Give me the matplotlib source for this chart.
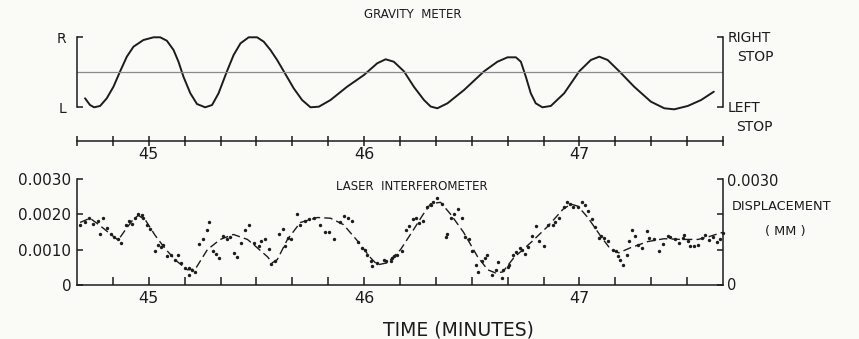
import numpy as np
import matplotlib.pyplot as plt

# gravity meter trace, time in minutes, position 0 = left stop, 1 = right stop
grav_t = [44.704, 44.727, 44.746, 44.774, 44.805, 44.836, 44.867, 44.898, 44.929, 44.975,
          45.022, 45.053, 45.084, 45.115, 45.138, 45.161, 45.193, 45.224, 45.262, 45.294,
          45.324, 45.363, 45.394, 45.426, 45.464, 45.503, 45.534, 45.565, 45.596, 45.627,
          45.673, 45.712, 45.751, 45.790, 45.844, 45.921, 45.999, 46.061, 46.100, 46.138,
          46.185, 46.231, 46.278, 46.309, 46.340, 46.387, 46.464, 46.557, 46.619, 46.666,
          46.705, 46.728, 46.751, 46.774, 46.797, 46.828, 46.867, 46.929, 46.999, 47.053,
          47.092, 47.131, 47.185, 47.254, 47.332, 47.394, 47.440, 47.503, 47.565, 47.624]
grav_pos = [0.129, 0.033, 0.0, 0.019, 0.129, 0.294, 0.514, 0.723, 0.866, 0.961,
            1.0, 1.0, 0.951, 0.819, 0.651, 0.437, 0.2, 0.047, 0.0, 0.033,
            0.2, 0.514, 0.747, 0.914, 1.0, 1.0, 0.937, 0.819, 0.676, 0.514,
            0.271, 0.104, 0.0, 0.009, 0.104, 0.294, 0.461, 0.629, 0.686, 0.651,
            0.514, 0.294, 0.104, 0.011, -0.014, 0.057, 0.247, 0.514, 0.651, 0.714,
            0.714, 0.651, 0.437, 0.2, 0.057, 0.0, 0.019, 0.2, 0.514, 0.676,
            0.723, 0.676, 0.514, 0.294, 0.080, -0.014, -0.029, 0.019, 0.104, 0.223]

# laser interferometer points (displacement in micrometres = 0.001 mm)
laser_t = [44.681, 44.704, 44.723, 44.743, 44.763, 44.774, 44.789, 44.808, 44.825, 44.840,
           44.856, 44.872, 44.894, 44.910, 44.924, 44.937, 44.952, 44.968, 44.975, 44.991,
           45.007, 45.027, 45.042, 45.058, 45.068, 45.084, 45.104, 45.123, 45.138, 45.151,
           45.169, 45.185, 45.188, 45.200, 45.216, 45.234, 45.250, 45.270, 45.281, 45.296,
           45.312, 45.327, 45.347, 45.363, 45.378, 45.398, 45.409, 45.430, 45.445, 45.464,
           45.487, 45.510, 45.523, 45.538, 45.557, 45.569, 45.588, 45.606, 45.622, 45.634,
           45.647, 45.662, 45.689, 45.704, 45.724, 45.746, 45.766, 45.797, 45.817, 45.839,
           45.859, 45.886, 45.906, 45.926, 45.944, 45.973, 45.988, 46.003, 46.014, 46.030,
           46.037, 46.061, 46.092, 46.100, 46.123, 46.131, 46.138, 46.154, 46.177, 46.193,
           46.208, 46.227, 46.239, 46.255, 46.273, 46.294, 46.309, 46.322, 46.340, 46.360,
           46.379, 46.387, 46.402, 46.418, 46.438, 46.454, 46.469, 46.487, 46.502, 46.518,
           46.531, 46.549, 46.561, 46.573, 46.593, 46.611, 46.624, 46.639, 46.645, 46.666,
           46.673, 46.692, 46.707, 46.723, 46.732, 46.748, 46.763, 46.779, 46.797, 46.810,
           46.836, 46.856, 46.875, 46.887, 46.906, 46.929, 46.940, 46.955, 46.968, 46.991,
           47.011, 47.027, 47.042, 47.058, 47.073, 47.092, 47.100, 47.115, 47.131, 47.154,
           47.169, 47.177, 47.188, 47.200, 47.219, 47.228, 47.244, 47.259, 47.270, 47.290,
           47.312, 47.324, 47.347, 47.368, 47.386, 47.410, 47.420, 47.445, 47.464, 47.482,
           47.487, 47.503, 47.515, 47.531, 47.549, 47.569, 47.585, 47.603, 47.622, 47.637,
           47.654, 47.665]
laser_um = [1.71, 1.79, 1.91, 1.73, 1.81, 1.43, 1.91, 1.62, 1.45, 1.35,
            1.31, 1.19, 1.69, 1.81, 1.73, 1.91, 2.00, 1.98, 1.89, 1.71,
            1.59, 0.97, 1.14, 1.07, 1.14, 0.81, 0.86, 0.71, 0.86, 0.62,
            0.49, 0.48, 0.29, 0.43, 0.38, 1.16, 1.29, 1.57, 1.79, 0.95,
            0.88, 0.76, 1.38, 1.29, 1.35, 0.91, 0.78, 1.19, 1.57, 1.69,
            1.19, 1.09, 1.24, 1.31, 1.02, 0.59, 0.67, 1.45, 1.59, 1.09,
            1.33, 1.31, 2.00, 1.71, 1.81, 1.88, 1.91, 1.71, 1.49, 1.49,
            1.31, 1.78, 1.95, 1.91, 1.81, 1.21, 1.05, 1.00, 0.86, 0.67,
            0.55, 0.62, 0.71, 0.67, 0.67, 0.76, 0.83, 0.86, 0.95, 1.57,
            1.67, 1.86, 1.89, 1.76, 1.81, 2.21, 2.27, 2.36, 2.46, 2.29,
            1.35, 1.45, 1.89, 2.00, 2.16, 1.89, 1.35, 1.29, 0.97, 0.57,
            0.38, 0.69, 0.76, 0.86, 0.29, 0.43, 0.64, 0.19, 0.43, 0.52,
            0.57, 0.84, 0.93, 1.05, 1.00, 0.88, 1.08, 1.38, 1.67, 1.24,
            1.09, 1.69, 1.71, 1.79, 1.89, 2.21, 2.36, 2.29, 2.21, 2.21,
            2.36, 2.27, 2.09, 1.86, 1.64, 1.33, 1.38, 1.33, 1.24, 1.00,
            0.95, 0.81, 0.71, 0.57, 0.86, 1.24, 1.57, 1.38, 1.14, 1.05,
            1.54, 1.33, 1.29, 0.97, 1.16, 1.38, 1.35, 1.29, 1.19, 1.33,
            1.41, 1.24, 1.09, 1.09, 1.14, 1.33, 1.41, 1.26, 1.35, 1.21,
            1.29, 1.48]

# dashed smooth curve through the laser points
fit_t = [44.681, 44.727, 44.774, 44.820, 44.858, 44.890, 44.923, 44.951, 44.983, 45.030,
         45.076, 45.123, 45.179, 45.216, 45.272, 45.332, 45.393, 45.458, 45.495, 45.551,
         45.574, 45.597, 45.644, 45.704, 45.783, 45.844, 45.904, 45.969, 46.030, 46.062,
         46.109, 46.169, 46.230, 46.272, 46.309, 46.355, 46.402, 46.462, 46.527, 46.574,
         46.611, 46.644, 46.695, 46.774, 46.853, 46.923, 46.960, 46.993, 47.039, 47.100,
         47.146, 47.183, 47.239, 47.318, 47.393, 47.472, 47.551, 47.602, 47.665]
fit_um = [1.77, 1.89, 1.68, 1.45, 1.27, 1.55, 1.82, 1.97, 1.85, 1.40,
          1.03, 0.71, 0.43, 0.45, 1.00, 1.29, 1.43, 1.29, 1.10, 0.80,
          0.63, 0.72, 1.29, 1.77, 1.91, 1.89, 1.71, 1.25, 0.77, 0.57,
          0.63, 1.00, 1.57, 1.98, 2.30, 2.34, 2.00, 1.49, 0.80, 0.43,
          0.34, 0.37, 0.77, 1.20, 1.66, 2.14, 2.29, 2.23, 1.91, 1.37,
          1.00, 0.91, 1.06, 1.23, 1.31, 1.29, 1.29, 1.37, 1.49]

time_ticks = 44 + np.arange(4, 23) / 6.0
time_labels = ['45' if abs(v - 45) < 1e-6 else '46' if abs(v - 46) < 1e-6 else
               '47' if abs(v - 47) < 1e-6 else '' for v in time_ticks]
disp_ticks = [0, 0.001, 0.002, 0.003]
disp_labels = ['0', '0.0010', '0.0020', '0.0030']

W, H = 859, 339
ink = '#1c1c1c'
bg = '#fafaf7'
plt.rcParams['font.family'] = ['DejaVu Sans']

fig = plt.figure(figsize=(W / 100, H / 100), dpi=100, facecolor=bg)

def px(x, y):
    return x / W, 1 - y / H

# ---- gravity meter ----
ax1 = fig.add_axes([77 / W, 1 - 107.3 / H, 646 / W, 70 / H])
ax1.set_facecolor(bg)
ax1.plot(grav_t, grav_pos, color=ink, lw=1.4, clip_on=False,
         solid_joinstyle='round', solid_capstyle='round')
ax1.axhline(0.5, color='#8a8a8a', lw=0.9)
ax1.set_xlim(time_ticks[0], time_ticks[-1])
ax1.set_ylim(0, 1)
ax1.spines['top'].set_visible(False)
ax1.spines['bottom'].set_position(('outward', 24.3))
for s in ax1.spines.values():
    s.set_color(ink)
    s.set_linewidth(1.1)
ax1.set_yticks([0, 1], ['L', 'R'])
ax1.tick_params(axis='y', direction='in', length=4, width=1.1, right=True,
                labelsize=10, pad=8, colors=ink)
ax1.set_xticks(time_ticks, time_labels)
ax1.tick_params(axis='x', direction='inout', length=7, width=1.1,
                labelsize=11.5, pad=1, colors=ink)

fig.text(*px(413, 15), 'GRAVITY  METER', ha='center', va='center', fontsize=8.5, color=ink)
fig.text(*px(728, 38), 'RIGHT', ha='left', va='center', fontsize=10, color=ink)
fig.text(*px(737, 57), 'STOP', ha='left', va='center', fontsize=10, color=ink)
fig.text(*px(728, 108), 'LEFT', ha='left', va='center', fontsize=10, color=ink)
fig.text(*px(736, 127), 'STOP', ha='left', va='center', fontsize=10, color=ink)

# ---- laser interferometer ----
ax2 = fig.add_axes([77 / W, 1 - 285 / H, 646 / W, 106 / H])
ax2.set_facecolor(bg)
ax2.scatter(laser_t, np.array(laser_um) / 1000, s=6, color=ink, lw=0, clip_on=False)
ax2.plot(fit_t, np.array(fit_um) / 1000, color=ink, lw=1.0, ls=(0, (6, 3)),
         dash_joinstyle='round')
ax2.set_xlim(time_ticks[0], time_ticks[-1])
ax2.set_ylim(0, 0.003)
ax2.spines['top'].set_visible(False)
for s in ax2.spines.values():
    s.set_color(ink)
    s.set_linewidth(1.1)
ax2.set_yticks(disp_ticks, disp_labels)
ax2.tick_params(axis='y', direction='in', length=4, width=1.1, right=True,
                labelsize=11, pad=4, colors=ink)
ax2.set_xticks(time_ticks[1:-1], time_labels[1:-1])
ax2.tick_params(axis='x', direction='in', length=6, width=1.1,
                labelsize=11.5, pad=4, colors=ink)

fig.text(*px(412, 187), 'LASER  INTERFEROMETER', ha='center', va='center', fontsize=8.5, color=ink)
fig.text(*px(727, 181), '0.0030', ha='left', va='center', fontsize=10.5, color=ink)
fig.text(*px(727, 286), '0', ha='left', va='center', fontsize=10.5, color=ink)
fig.text(*px(732, 207), 'DISPLACEMENT', ha='left', va='center', fontsize=9.3, color=ink)
fig.text(*px(785, 232), '( MM )', ha='center', va='center', fontsize=9.3, color=ink)
fig.text(*px(458, 330), 'TIME (MINUTES)', ha='center', va='center', fontsize=13.5, color=ink)

fig.savefig('out.png', dpi=100, facecolor=bg)
